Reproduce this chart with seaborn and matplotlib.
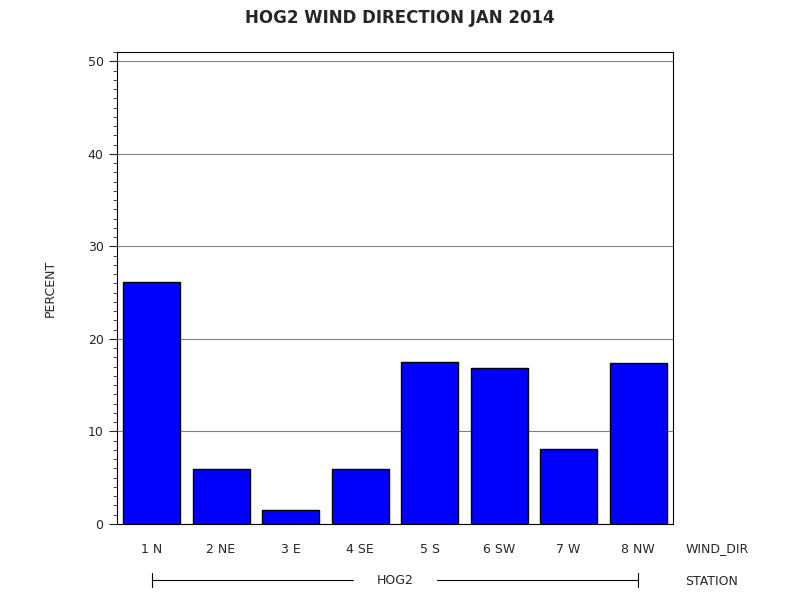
import matplotlib
matplotlib.use("Agg")
import matplotlib.pyplot as plt
import seaborn as sns
import pandas as pd
from matplotlib.ticker import MultipleLocator

categories = ["1 N", "2 NE", "3 E", "4 SE", "5 S", "6 SW", "7 W", "8 NW"]
percent = [26.2, 5.9, 1.5, 5.9, 17.5, 16.8, 8.1, 17.4]
station = "HOG2"

df = pd.DataFrame({"WIND_DIR": categories, "PERCENT": percent})

sns.set_style("white")
plt.rcParams['font.family'] = ['DejaVu Sans']
fig = plt.figure(figsize=(8, 6), dpi=100)
ax = fig.add_axes([0.146, 0.127, 0.695, 0.786])
sns.barplot(data=df, x="WIND_DIR", y="PERCENT", color="#0000ff", saturation=1,
            edgecolor="black", linewidth=1, width=0.82, ax=ax, zorder=3)
ax.set_ylim(0, 51)
ax.set_xlim(-0.5, 7.5)
ax.yaxis.set_major_locator(MultipleLocator(10))
ax.yaxis.set_minor_locator(MultipleLocator(1))
ax.grid(axis="y", color="#808080", linewidth=0.8, zorder=0)
ax.tick_params(axis="y", which="major", direction="out", length=6, left=True, labelsize=9)
ax.tick_params(axis="y", which="minor", direction="out", length=3, left=True)
ax.tick_params(axis="x", length=0, pad=14, labelsize=9)
for s in ax.spines.values():
    s.set_color("black"); s.set_linewidth(0.8)
ax.set_xlabel("")
ax.set_ylabel("PERCENT", fontsize=9, labelpad=22)
fig.text(0.857, 0.085, "WIND_DIR", fontsize=9, va="center")
fig.text(0.857, 0.031, "STATION", fontsize=9, va="center")
# station bracket
y = -0.12
ax.plot([0, 2.9], [y, y], transform=ax.get_xaxis_transform(), color="black", lw=0.8, clip_on=False)
ax.plot([4.1, 7], [y, y], transform=ax.get_xaxis_transform(), color="black", lw=0.8, clip_on=False)
for xx in [0, 7]:
    ax.plot([xx, xx], [y - 0.015, y + 0.015], transform=ax.get_xaxis_transform(), color="black", lw=0.8, clip_on=False)
ax.text(3.5, y, station, transform=ax.get_xaxis_transform(), ha="center", va="center", fontsize=9)
fig.suptitle("HOG2 WIND DIRECTION JAN 2014", fontsize=12, fontweight="bold", y=0.985)
fig.savefig("out.png")
